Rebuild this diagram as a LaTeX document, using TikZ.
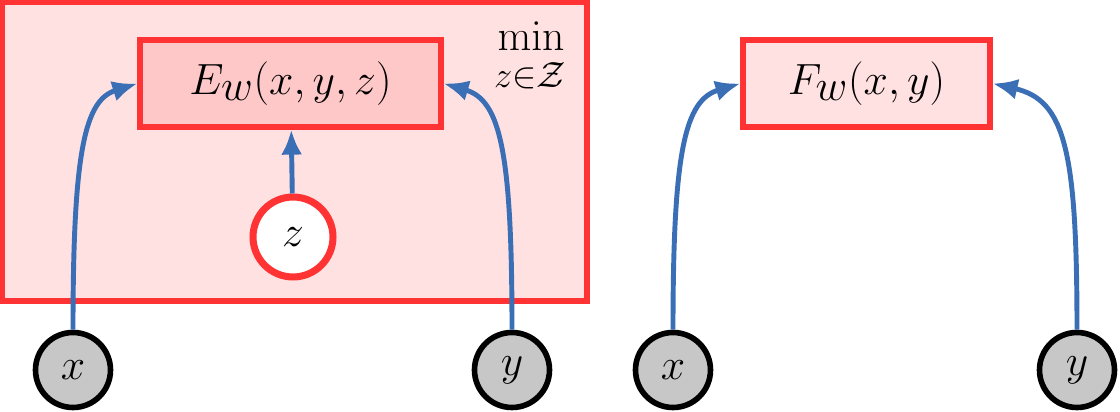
\documentclass[tikz,border=0pt]{standalone}
\usetikzlibrary{arrows.meta}
\begin{document}
\definecolor{myred}{RGB}{255,51,51}
\definecolor{lpink}{RGB}{255,225,225}
\definecolor{dpink}{RGB}{255,200,200}
\definecolor{myblue}{RGB}{58,110,181}
\begin{tikzpicture}[x=0.02cm,y=-0.02cm,
  box/.style={draw=myred,line width=3pt,inner sep=0pt,minimum height=1.74cm,font=\fontsize{33}{38}\selectfont},
  var/.style={circle,draw=black,line width=3.2pt,fill=black!22,minimum size=1.5cm,inner sep=0pt,font=\fontsize{32}{36}\selectfont},
  arr/.style={draw=myblue,line width=2.8pt,-{Latex[length=0.5cm,width=0.42cm]}}]
\useasboundingbox (0,0) rectangle (1120,412);
\node[draw=myred,fill=lpink,line width=3pt,minimum width=11.7cm,minimum height=5.98cm,inner sep=0pt] (outer) at (294.5,151.5) {};
\node[box,fill=dpink,minimum width=6.02cm] (E) at (290.5,83.5) {$E_w(x,y,z)$};
\node[font=\fontsize{32}{36}\selectfont] (min) at (531,36) {$\min$};
\node[font=\fontsize{20}{24}\selectfont] (sub) at (530,76) {$z{\in}\mathcal{Z}$};
\node[circle,draw=myred,fill=white,line width=4pt,minimum size=1.6cm,inner sep=0pt,font=\fontsize{32}{36}\selectfont] (z) at (293,237) {$z$};
\node[var] (x1) at (73,370) {$x$};
\node[var] (y1) at (512,370) {$y$};
\node[box,fill=lpink,minimum width=4.94cm] (F) at (866.5,83.5) {$F_w(x,y)$};
\node[var] (x2) at (673,370) {$x$};
\node[var] (y2) at (1077,370) {$y$};
\draw[arr] (z) -- (E);
\draw[arr] (x1.north) .. controls (73,150) and (85,100) .. (E.west);
\draw[arr] (y1.north) .. controls (512,150) and (500,100) .. (E.east);
\draw[arr] (x2.north) .. controls (673,150) and (685,100) .. (F.west);
\draw[arr] (y2.north) .. controls (1077,150) and (1065,100) .. (F.east);
\end{tikzpicture}
\end{document}
